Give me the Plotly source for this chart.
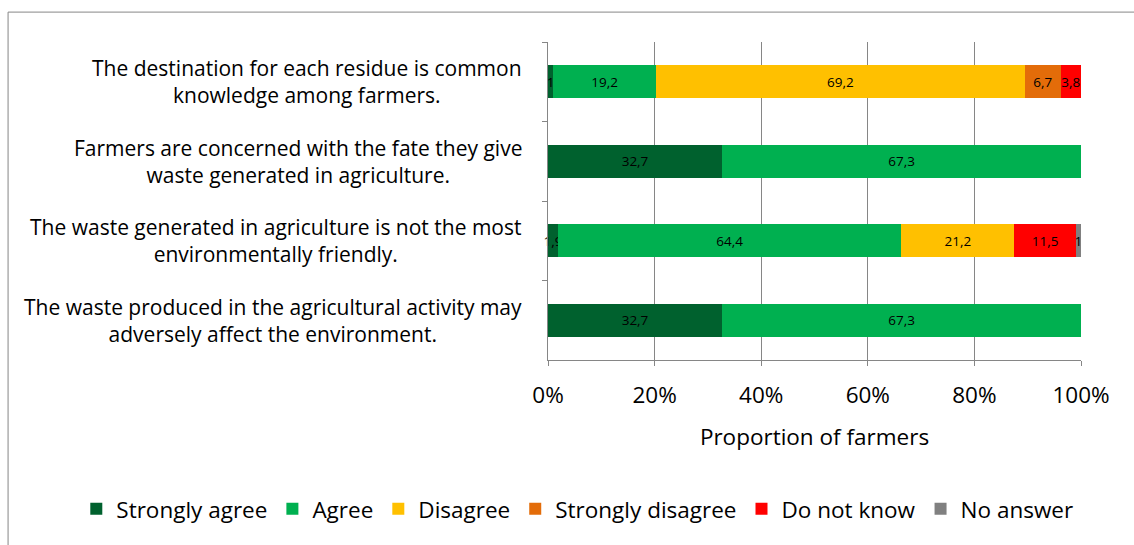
import plotly.graph_objects as go

categories = [
    "The destination for each residue is common<br>knowledge among farmers.",
    "Farmers are concerned with the fate they give<br>waste generated in agriculture.",
    "The waste generated in agriculture is not the most<br>environmentally friendly.",
    "The waste produced in the agricultural activity may<br>adversely affect the environment.",
]
series_names = ["Strongly agree", "Agree", "Disagree", "Strongly disagree", "Do not know", "No answer"]
strongly_agree = [1.0, 32.7, 1.9, 32.7]
agree = [19.2, 67.3, 64.4, 67.3]
disagree = [69.2, None, 21.2, None]
strongly_disagree = [6.7, None, None, None]
do_not_know = [3.8, None, 11.5, None]
no_answer = [None, None, 1.0, None]
colors = ["#00612E", "#00B050", "#FFC000", "#E36C09", "#FF0000", "#808080"]
x_tickvals = [0, 20, 40, 60, 80, 100]
x_ticktext = ["0%", "20%", "40%", "60%", "80%", "100%"]

FONT = "Open Sans"

def fmt(v):
    if v is None:
        return None
    return f"{v:g}".replace(".", ",")

fig = go.Figure()
for name, vals, col in zip(series_names,
                           [strongly_agree, agree, disagree, strongly_disagree, do_not_know, no_answer],
                           colors):
    fig.add_trace(go.Bar(
        y=categories, x=vals, name=name, orientation="h",
        marker=dict(color=col, line=dict(width=0)),
        text=[fmt(v) for v in vals], textposition="inside", textangle=0,
        insidetextanchor="middle",
        textfont=dict(family=FONT, size=13.5, color="black"),
        cliponaxis=False, width=0.41,
    ))

for cat in categories:
    fig.add_annotation(x=-0.045, xref="paper", y=cat, yref="y", text=cat,
                       showarrow=False, xanchor="right", yanchor="middle", align="center",
                       font=dict(family=FONT, size=21, color="black"))

fig.add_shape(type="rect", xref="paper", yref="paper", x0=-1.013, x1=1.2, y0=-0.7, y1=1.094,
              line=dict(color="#868686", width=1), fillcolor="rgba(0,0,0,0)", layer="below")

fig.update_layout(
    width=1134, height=545,
    margin=dict(l=548, r=53, t=42, b=185),
    barmode="stack", barnorm="percent",
    plot_bgcolor="white", paper_bgcolor="white",
    font=dict(family=FONT, size=21, color="black"),
    uniformtext=dict(minsize=13.5, mode="show"),
    showlegend=True,
    legend=dict(orientation="h", x=-0.885, xanchor="left",
                y=-0.469, yanchor="middle",
                font=dict(family=FONT, size=22.5), traceorder="normal", itemclick=False),
    xaxis=dict(range=[0, 100], tickvals=x_tickvals, ticktext=x_ticktext,
               showgrid=True, gridcolor="#868686", gridwidth=1,
               showline=True, linecolor="#868686", ticks="outside", ticklen=5, tickcolor="#868686",
               tickfont=dict(family=FONT, size=22.5), zeroline=False, ticklabelstandoff=10,
               title=dict(text="Proportion of farmers", font=dict(family=FONT, size=22.5), standoff=20)),
    yaxis=dict(autorange="reversed", showticklabels=False, showline=True, linecolor="#868686",
               ticks="outside", ticklen=5, tickcolor="#868686", tickson="boundaries", showgrid=False),
)

fig.write_html("out.html")
